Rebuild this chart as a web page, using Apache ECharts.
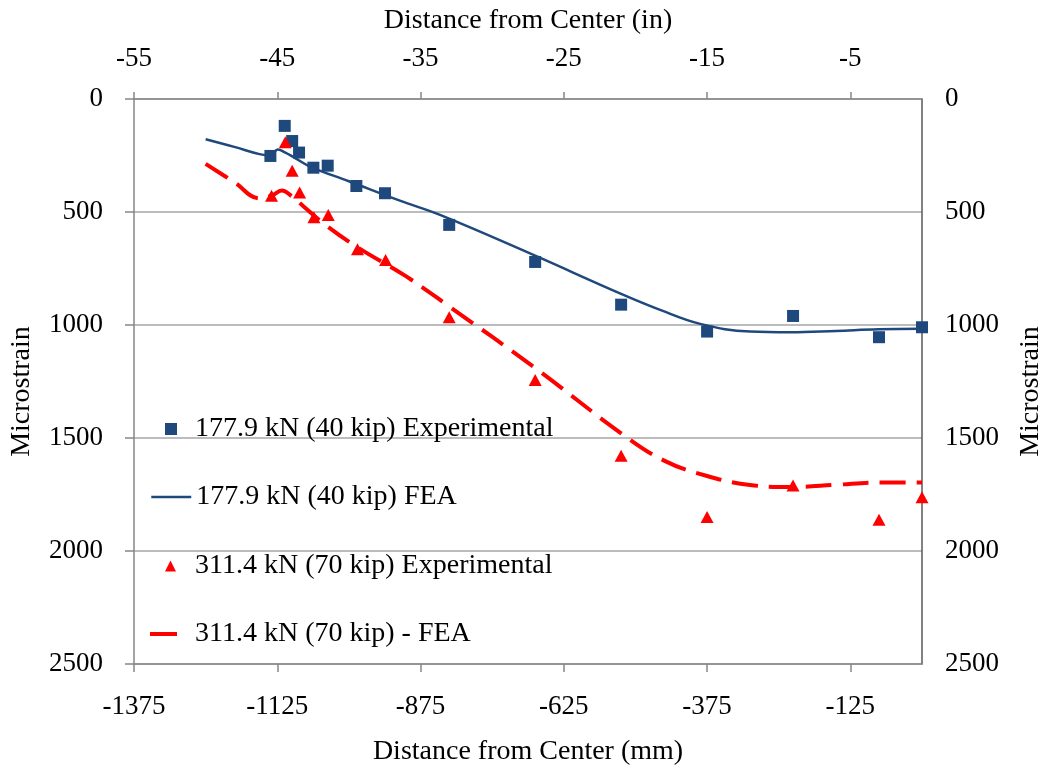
<!DOCTYPE html>
<html lang="en">
<head>
    <meta http-equiv="Content-Type" content="text/html" charset="UTF-8">
    <script type="text/javascript" src="https://cdn.jsdelivr.net/npm/echarts@6/dist/echarts.min.js"></script>
    <style>
        html, body { margin: 0; padding: 0; background: #fff; }
        #chart { width: 1044px; height: 769px; }
    </style>
</head>
<body>
<div id="chart"></div>
<script type="text/javascript">
    // experimental points, distance in mm / microstrain
    var exp40X = [-1137, -1112, -1099, -1087, -1062, -1037, -987, -937, -825, -675, -525, -375, -225, -75, 0];
    var exp40Y = [252, 119, 186, 237, 304, 295, 385, 417, 557, 721, 910, 1029, 960, 1054, 1010];
    var exp70X = [-1135, -1111, -1099, -1086, -1061, -1036, -985, -936, -825, -675, -525, -375, -225, -75, 0];
    var exp70Y = [428, 191, 317, 414, 523, 513, 665, 712, 966, 1243, 1579, 1850, 1710, 1862, 1762];

    // FEA curves
    var fea40X = [-1250, -1200, -1156, -1137, -1124, -1110, -1098, -1068, -1000, -911, -841, -678, -527, -457, -387, -300, -230, -150, -76, 0];
    var fea40Y = [178, 212, 244, 250, 224, 238, 255, 299, 364, 450, 513, 690, 860, 933, 995, 1029, 1032, 1026, 1019, 1017];
    var fea70X = [-1250, -1200, -1156, -1135, -1117, -1100, -1080, -1048, -987, -900, -825, -675, -525, -450, -375, -300, -225, -150, -75, 0];
    var fea70Y = [287, 368, 440, 428, 405, 430, 473, 543, 653, 785, 918, 1190, 1479, 1600, 1668, 1708, 1717, 1707, 1697, 1697];

    var names = [
        '177.9 kN (40 kip) Experimental',
        '177.9 kN (40 kip) FEA',
        '311.4 kN (70 kip) Experimental',
        '311.4 kN (70 kip) - FEA'
    ];

    function zip(xs, ys) {
        var out = [];
        for (var i = 0; i < xs.length; i++) out.push([xs[i], ys[i]]);
        return out;
    }

    var font = "'Liberation Serif', 'Times New Roman', serif";
    var blue = '#1F497D';
    var red = '#FF0000';
    var axisGray = '#868686';
    var plain = function (v) { return String(v); };

    function legendBox(item, left, top, w, h, pad, extra) {
        var o = {
            data: [item],
            orient: 'vertical',
            left: left,
            top: top,
            itemWidth: w,
            itemHeight: h,
            padding: 0,
            textStyle: {fontFamily: font, fontSize: 28, color: '#000', padding: [0, 0, 0, pad]}
        };
        for (var k in extra) o[k] = extra[k];
        return o;
    }

    var hideSymbol = {color: 'rgba(0,0,0,0)', borderWidth: 0, opacity: 0};

    var chart = echarts.init(document.getElementById('chart'));
    chart.setOption({
        animation: false,
        backgroundColor: '#fff',
        textStyle: {fontFamily: font},
        grid: {left: 134, right: 122, top: 99, bottom: 105, containLabel: false, outerBoundsMode: 'none'},
        legend: [
            legendBox(names[0], 165, 415, 12, 12, 13, {}),
            legendBox(names[1], 150, 483, 40, 12, 0, {lineStyle: {width: 2.5, type: 'solid'}, itemStyle: hideSymbol}),
            legendBox(names[2], 165, 552, 11, 11, 14, {}),
            legendBox({name: names[3], icon: 'rect'}, 150, 620, 27, 4, 13, {
                itemStyle: {color: red, borderWidth: 0, borderType: 'solid', opacity: 1},
                lineStyle: {type: 'solid', width: 0}
            })
        ],
        xAxis: [{
            type: 'value',
            position: 'bottom',
            min: -1375,
            max: 0,
            interval: 250,
            name: 'Distance from Center (mm)',
            nameLocation: 'middle',
            nameGap: 74,
            nameTextStyle: {fontFamily: font, fontSize: 28, color: '#000'},
            axisLine: {show: true, onZero: false, lineStyle: {color: axisGray, width: 1.5}},
            axisTick: {show: true, inside: false, length: 8, lineStyle: {color: axisGray, width: 1.5}},
            axisLabel: {fontFamily: font, fontSize: 27, color: '#000', margin: 29, showMaxLabel: false, formatter: plain},
            splitLine: {show: false}
        }, {
            type: 'value',
            position: 'top',
            min: -55,
            max: 0,
            interval: 10,
            name: 'Distance from Center (in)',
            nameLocation: 'middle',
            nameGap: 64,
            nameTextStyle: {fontFamily: font, fontSize: 28, color: '#000'},
            axisLine: {show: true, onZero: false, lineStyle: {color: axisGray, width: 1.5}},
            axisTick: {show: true, inside: false, length: 7, lineStyle: {color: axisGray, width: 1.5}},
            axisLabel: {fontFamily: font, fontSize: 27, color: '#000', margin: 27, showMaxLabel: false, formatter: plain},
            splitLine: {show: false}
        }],
        yAxis: [{
            type: 'value',
            position: 'left',
            inverse: true,
            min: 0,
            max: 2500,
            interval: 500,
            name: 'Microstrain',
            nameLocation: 'middle',
            nameRotate: 90,
            nameGap: 98,
            nameTextStyle: {fontFamily: font, fontSize: 28, color: '#000', padding: [0, 20, 0, 0]},
            axisLine: {show: true, onZero: false, lineStyle: {color: axisGray, width: 1.5}},
            axisTick: {show: true, inside: false, length: 9, lineStyle: {color: axisGray, width: 1.5}},
            axisLabel: {fontFamily: font, fontSize: 27, color: '#000', margin: 31, formatter: plain},
            splitLine: {show: true, lineStyle: {color: '#a6a6a6', width: 1.5}}
        }, {
            type: 'value',
            position: 'right',
            inverse: true,
            min: 0,
            max: 2500,
            interval: 500,
            name: 'Microstrain',
            nameLocation: 'middle',
            nameRotate: 90,
            nameGap: 95,
            nameTextStyle: {fontFamily: font, fontSize: 28, color: '#000', padding: [0, 20, 0, 0]},
            axisLine: {show: true, onZero: false, lineStyle: {color: '#595959', width: 1.5}},
            axisTick: {show: false},
            axisLabel: {fontFamily: font, fontSize: 27, color: '#000', margin: 23, formatter: plain},
            splitLine: {show: false}
        }],
        series: [{
            name: names[0],
            type: 'scatter',
            xAxisIndex: 0,
            yAxisIndex: 0,
            symbol: 'rect',
            symbolSize: 12,
            clip: false,
            itemStyle: {color: blue, opacity: 1},
            data: zip(exp40X, exp40Y),
            z: 3
        }, {
            name: names[1],
            type: 'line',
            xAxisIndex: 0,
            yAxisIndex: 0,
            smooth: 0.4,
            symbol: 'none',
            clip: false,
            lineStyle: {color: blue, width: 2.5},
            itemStyle: {color: blue},
            data: zip(fea40X, fea40Y),
            z: 2
        }, {
            name: names[2],
            type: 'scatter',
            xAxisIndex: 0,
            yAxisIndex: 0,
            symbol: 'triangle',
            symbolSize: [13, 12],
            clip: false,
            itemStyle: {color: red, opacity: 1},
            data: zip(exp70X, exp70Y),
            z: 3
        }, {
            name: names[3],
            type: 'line',
            xAxisIndex: 0,
            yAxisIndex: 0,
            smooth: 0.4,
            symbol: 'none',
            clip: false,
            lineStyle: {color: red, width: 4, type: [26, 11]},
            itemStyle: {color: red},
            data: zip(fea70X, fea70Y),
            z: 2
        }]
    });
</script>
</body>
</html>
